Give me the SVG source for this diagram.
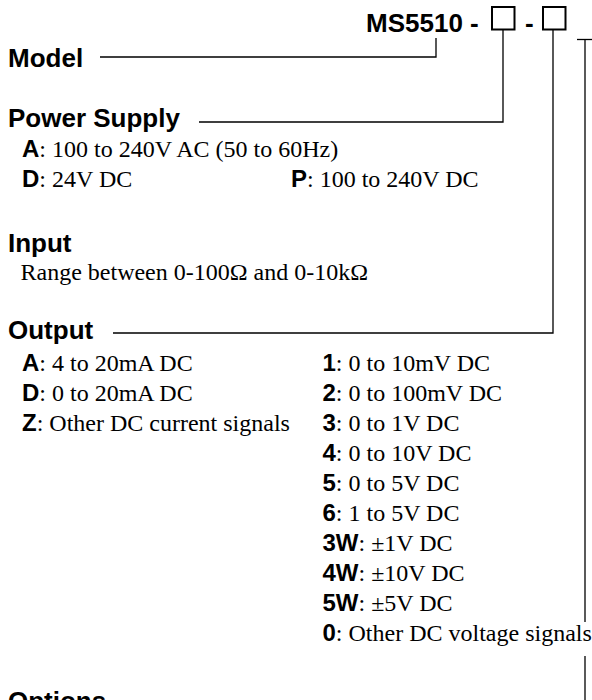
<svg xmlns="http://www.w3.org/2000/svg" width="592" height="700" viewBox="0 0 592 700">
<style>
.h{font-family:"Liberation Sans",Arial,sans-serif;font-weight:bold;font-size:26px;fill:#000}
.t{font-family:"Liberation Serif","Times New Roman",serif;font-size:24px;fill:#000}
.b{font-family:"Liberation Sans",Arial,sans-serif;font-weight:bold;font-size:24px}
.ln{fill:none;stroke:#000;stroke-width:1.3}
.box{fill:#fff;stroke:#000;stroke-width:2}
</style>
<rect width="592" height="700" fill="#fff"/>
<g id="connectors">
<polyline class="ln" points="100,57 436,57 436,38"/>
<polyline class="ln" points="199,122 503,122 503,30"/>
<polyline class="ln" points="113,333 553,333 553,30"/>
<polyline class="ln" points="577,39.5 592,39.5"/>
<line class="ln" x1="585" y1="39.5" x2="585" y2="622"/>
<line class="ln" x1="585" y1="656" x2="585" y2="700"/>
</g>
<g id="title">
<text class="h" x="366" y="31.5">MS5510 -</text>
<rect class="box" x="492" y="7" width="22.5" height="22.5"/>
<text class="h" x="525" y="31.5">-</text>
<rect class="box" x="543" y="7" width="22.5" height="22.5"/>
</g>
<g id="model">
<text class="h" x="8" y="66.7">Model</text>
</g>
<g id="power-supply">
<text class="h" x="8" y="126.7">Power Supply</text>
<text class="t" x="22" y="156.7"><tspan class="b">A</tspan>: 100 to 240V AC (50 to 60Hz)</text>
<text class="t" x="22" y="186.7"><tspan class="b">D</tspan>: 24V DC</text>
<text class="t" x="291" y="186.7"><tspan class="b">P</tspan>: 100 to 240V DC</text>
</g>
<g id="input">
<text class="h" x="8" y="251.7">Input</text>
<text class="t" x="20.5" y="280">Range between 0-100Ω and 0-10kΩ</text>
</g>
<g id="output">
<text class="h" x="8" y="339.3">Output</text>
<text class="t" x="22" y="371"><tspan class="b">A</tspan>: 4 to 20mA DC</text>
<text class="t" x="22" y="401"><tspan class="b">D</tspan>: 0 to 20mA DC</text>
<text class="t" x="22" y="431"><tspan class="b">Z</tspan>: Other DC current signals</text>
<text class="t" x="322.5" y="371"><tspan class="b">1</tspan>: 0 to 10mV DC</text>
<text class="t" x="322.5" y="401"><tspan class="b">2</tspan>: 0 to 100mV DC</text>
<text class="t" x="322.5" y="431"><tspan class="b">3</tspan>: 0 to 1V DC</text>
<text class="t" x="322.5" y="461"><tspan class="b">4</tspan>: 0 to 10V DC</text>
<text class="t" x="322.5" y="491"><tspan class="b">5</tspan>: 0 to 5V DC</text>
<text class="t" x="322.5" y="521"><tspan class="b">6</tspan>: 1 to 5V DC</text>
<text class="t" x="322.5" y="551"><tspan class="b">3W</tspan>: ±1V DC</text>
<text class="t" x="322.5" y="581"><tspan class="b">4W</tspan>: ±10V DC</text>
<text class="t" x="322.5" y="611"><tspan class="b">5W</tspan>: ±5V DC</text>
<text class="t" x="322.5" y="641"><tspan class="b">0</tspan>: Other DC voltage signals</text>
</g>
<g id="options">
<text class="h" x="8" y="710">Options</text>
</g>
</svg>
